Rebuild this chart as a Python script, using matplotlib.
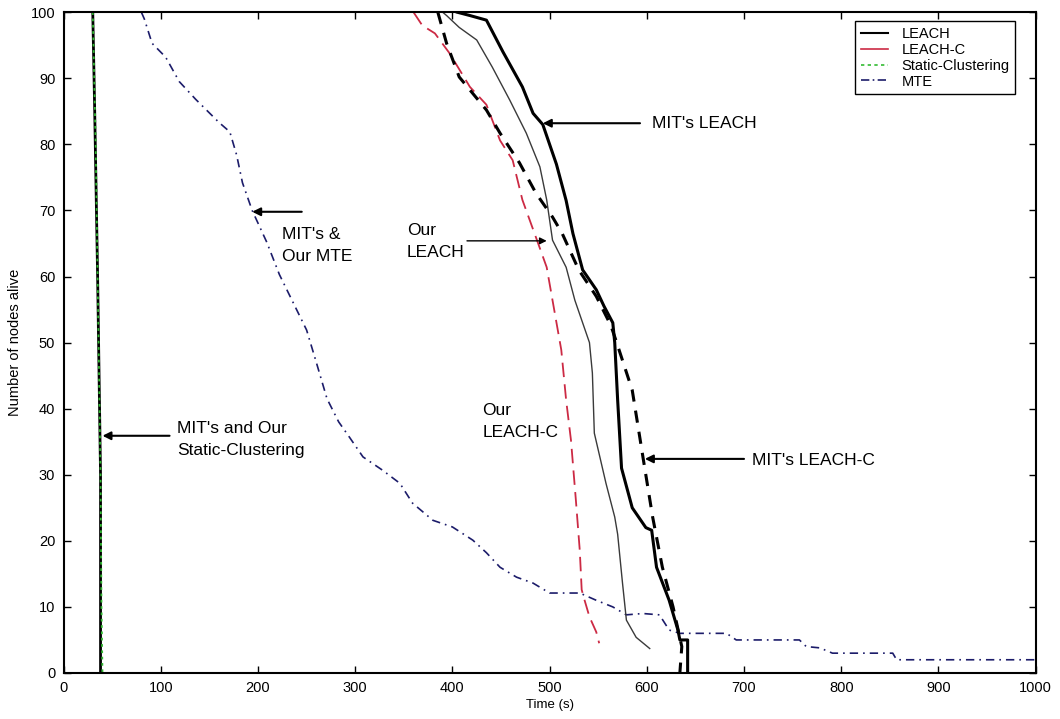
import matplotlib
matplotlib.use("Agg")
import matplotlib.pyplot as plt
from matplotlib.lines import Line2D

plt.rcParams['font.family'] = ['Liberation Sans', 'DejaVu Sans']

# MIT's LEACH (thick solid black)
mit_leach_x = [405, 418, 435, 452, 472, 483, 493, 507, 517, 524, 534, 548, 556, 565, 567, 570, 574, 585, 599, 605, 610, 623, 632, 634, 642, 642]
mit_leach_y = [100, 99.5, 98.8, 94, 88.7, 84.7, 83, 77, 71.5, 66.5, 61, 58, 55.5, 53, 50, 41.3, 31, 25, 22, 21.6, 16, 11, 6.5, 5, 5, 0]

# Our LEACH (thin solid)
our_leach_x = [390, 394, 407, 425, 441, 459, 476, 490, 497, 503, 517, 526, 541, 544, 546, 558, 567, 570, 575, 579, 589, 603]
our_leach_y = [100, 99.5, 97.7, 95.8, 91.7, 86.7, 81.7, 76.6, 71.6, 65.5, 61.4, 56.4, 50, 45.4, 36.3, 28.7, 23.6, 21, 13.6, 8, 5.4, 3.7]

# MIT's LEACH-C (thick dashed black)
mit_leachc_x = [385, 394, 407, 421, 435, 449, 469, 486, 503, 513, 530, 548, 563, 569, 585, 596, 606, 616, 627, 636, 634]
mit_leachc_y = [100, 95.3, 90.2, 87.7, 85.2, 81.7, 77.2, 72.6, 69, 66.5, 61, 57, 52.6, 50, 42.8, 32.7, 23.6, 16, 10, 4, 0]

# Our LEACH-C (red dashed)
our_leachc_x = [360, 369, 382, 397, 418, 435, 449, 462, 472, 487, 497, 503, 512, 517, 522, 527, 531, 533, 536, 541, 548, 551]
our_leachc_y = [100, 98, 96.8, 93.8, 88.7, 86, 80.6, 77.6, 71.6, 65.5, 61.4, 56.4, 48.9, 41.3, 35.2, 26.2, 18.6, 12.6, 11, 8.5, 6.2, 4.5]

# Static-Clustering
mit_static_x = [30, 32, 35, 37, 38, 38]
mit_static_y = [100, 85, 60, 40, 30, 0]
our_static_x = [30, 33, 36, 38, 39, 40]
our_static_y = [100, 80, 50, 30, 10, 0]

# MTE
mte_x = [80, 83, 91, 105, 119, 136, 160, 171, 178, 184, 194, 209, 222, 236, 250, 260, 271, 283, 294, 308, 328, 346, 359, 380, 400, 421, 435, 449, 466, 483, 500, 531, 548, 565, 579, 596, 613, 623, 634, 665, 682, 692, 757, 764, 778, 791, 853, 857, 1000]
mte_y = [100, 99, 95.3, 93.2, 89.5, 86.8, 83.3, 81.9, 78.4, 74.2, 70, 65.2, 60.3, 56.1, 51.9, 47, 41.5, 38, 35.7, 32.7, 30.7, 28.7, 25.7, 23.1, 22.1, 20.1, 18.2, 16, 14.5, 13.6, 12.1, 12.1, 11, 10, 8.8, 9, 8.8, 6.5, 6, 6, 6, 5, 5, 4, 3.8, 3, 3, 2, 2]

legend_labels = ['LEACH', 'LEACH-C', 'Static-Clustering', 'MTE']

fig = plt.figure(figsize=(10.6, 7.19), dpi=100)
ax = fig.add_axes([0.060, 0.064, 0.917, 0.919])

navy = '#1c1c6a'
red = '#cc2a44'
green = '#33bb33'

ax.plot(mte_x, mte_y, color=navy, lw=1.2, linestyle=(0, (5, 3, 1, 3)))
ax.plot(mit_static_x, mit_static_y, color='black', lw=2.0)
ax.plot(our_static_x, our_static_y, color=green, lw=1.3, linestyle=(0, (1.5, 2)))
ax.plot(our_leachc_x, our_leachc_y, color=red, lw=1.3, linestyle=(0, (8, 4)))
ax.plot(our_leach_x, our_leach_y, color='#3a3a3a', lw=1.0)
ax.plot(mit_leachc_x, mit_leachc_y, color='black', lw=2.2, linestyle=(0, (4, 3)))
ax.plot(mit_leach_x, mit_leach_y, color='black', lw=2.2)

ax.set_xlim(0, 1000)
ax.set_ylim(0, 100)
ax.set_xticks(range(0, 1001, 100))
ax.set_yticks(range(0, 101, 10))
ax.tick_params(direction='in', top=True, right=True, labelsize=10.5, length=5, width=1, pad=6)
for s in ax.spines.values():
    s.set_linewidth(1.5)
ax.set_xlabel('Time (s)', fontsize=9.5, labelpad=3)
ax.set_ylabel('Number of nodes alive', fontsize=10.5, labelpad=6)

arrow = dict(arrowstyle='-|>', color='black', lw=1.5, mutation_scale=12, shrinkA=0, shrinkB=0)
thin_arrow = dict(arrowstyle='-|>', color='black', lw=1.0, mutation_scale=10, shrinkA=0, shrinkB=0)
fs = 12.5
ls = 1.6

ax.annotate("", xy=(493, 83.2), xytext=(593, 83.2), arrowprops=arrow)
ax.text(605, 83.2, "MIT's LEACH", fontsize=fs, va='center', ha='left')

ax.text(353, 65.3, "Our\nLEACH", fontsize=fs, va='center', ha='left', linespacing=ls)
ax.annotate("", xy=(497, 65.4), xytext=(415, 65.4), arrowprops=thin_arrow)

ax.text(225, 64.7, "MIT's &\nOur MTE", fontsize=fs, va='center', ha='left', linespacing=ls)
ax.annotate("", xy=(194, 69.8), xytext=(245, 69.8), arrowprops=arrow)

ax.text(117, 35.3, "MIT's and Our\nStatic-Clustering", fontsize=fs, va='center', ha='left', linespacing=ls)
ax.annotate("", xy=(40, 35.9), xytext=(109, 35.9), arrowprops=arrow)

ax.text(431, 38.1, "Our\nLEACH-C", fontsize=fs, va='center', ha='left', linespacing=ls)

ax.annotate("", xy=(598, 32.4), xytext=(700, 32.4), arrowprops=arrow)
ax.text(708, 32.2, "MIT's LEACH-C", fontsize=fs, va='center', ha='left')

handles = [Line2D([], [], color='black', lw=1.5),
           Line2D([], [], color=red, lw=1.2),
           Line2D([], [], color=green, lw=1.2, linestyle=(0, (2, 2))),
           Line2D([], [], color=navy, lw=1.2, linestyle=(0, (5, 2, 1, 2)))]
leg = ax.legend(handles, legend_labels, loc='upper left', bbox_to_anchor=(0.814, 0.986),
                fontsize=10.5, frameon=True, fancybox=False, framealpha=1, edgecolor='black',
                handlelength=1.9, handletextpad=0.9, borderpad=0.4, labelspacing=0.12, borderaxespad=0)
leg.get_frame().set_linewidth(1.0)

fig.savefig('out.png', dpi=100)
